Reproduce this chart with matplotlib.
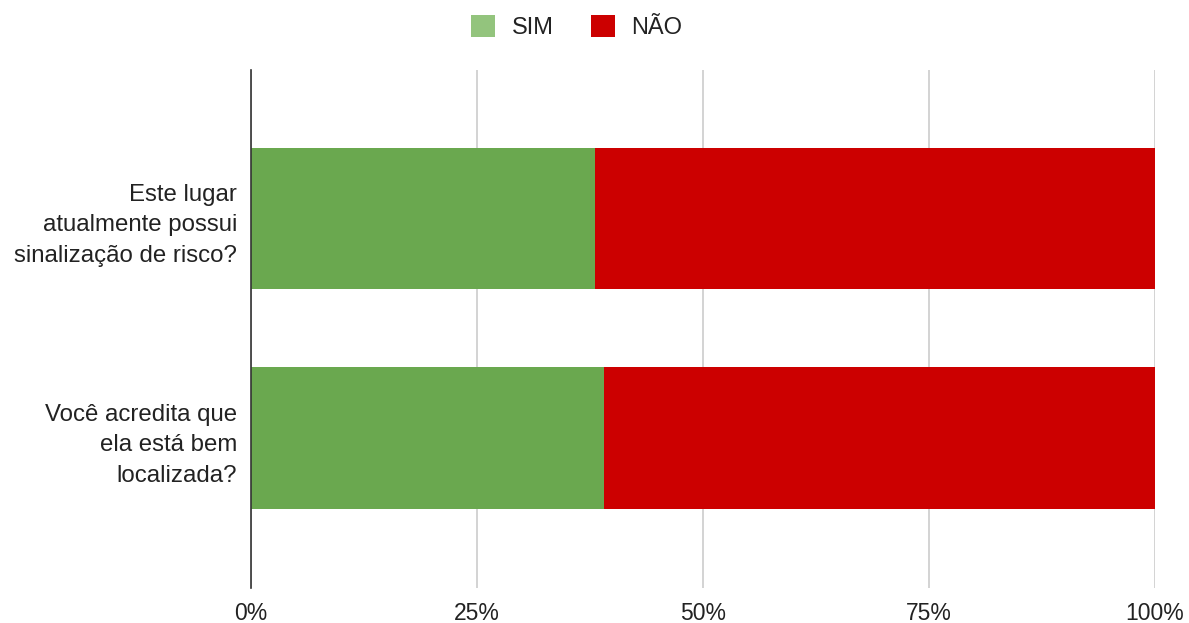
import matplotlib.pyplot as plt
from matplotlib.patches import Patch
from matplotlib.ticker import FuncFormatter

plt.rcParams['font.family'] = ['Liberation Sans', 'DejaVu Sans']

questions = ["Este lugar\natualmente possui\nsinalização de risco?",
             "Você acredita que\nela está bem\nlocalizada?"]
sim = [38, 39]
nao = [62, 61]

fig = plt.figure(figsize=(11.89, 6.23), dpi=100)
ax = fig.add_axes([251 / 1189, 35 / 623, 904 / 1189, 518 / 623])

y = range(len(questions))
ax.barh(y, sim, height=0.645, color="#6aa84f", zorder=3)
ax.barh(y, nao, left=sim, height=0.645, color="#cc0000", zorder=3)

ax.set_xlim(0, 100)
ax.set_ylim(1.68, -0.675)
ax.set_yticks(list(y))
ax.set_yticklabels(questions, fontsize=17.3, color="#222222", linespacing=1.5)
ax.set_xticks([0, 25, 50, 75, 100])
ax.xaxis.set_major_formatter(FuncFormatter(lambda v, p: f"{v:.0f}%"))
ax.tick_params(axis='x', labelsize=16.5, labelcolor="#222222", length=0, pad=10)
ax.tick_params(axis='y', length=0, pad=10)
ax.grid(axis='x', color="#cccccc", linewidth=1.2, zorder=0)

for s in ["top", "right", "bottom"]:
    ax.spines[s].set_visible(False)
ax.spines["left"].set_color("#333333")
ax.spines["left"].set_linewidth(1.2)
ax.spines["left"].set_zorder(4)

handles = [Patch(facecolor="#93c47d", label="SIM"),
           Patch(facecolor="#cc0000", label="NÃO")]
fig.legend(handles=handles, loc="center", bbox_to_anchor=(577 / 1189, 1 - 27 / 623),
           ncol=2, frameon=False, fontsize=17, handlelength=1.0, handleheight=1.1,
           handletextpad=0.7, columnspacing=1.6, labelcolor="#222222")

fig.savefig("out.png", dpi=100)
